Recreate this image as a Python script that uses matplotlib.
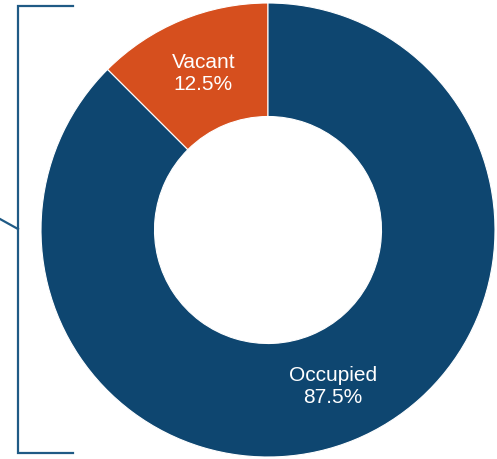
import matplotlib
matplotlib.use("Agg")
import matplotlib.pyplot as plt
import numpy as np

categories = ["Vacant", "Occupied"]
values = [12.5, 87.5]
colors = ["#D64F1E", "#0E4670"]

W, H = 497, 459
fig = plt.figure(figsize=(W / 100, H / 100), dpi=100)
ax = fig.add_axes([0, 0, 1, 1])
ax.set_xlim(0, W)
ax.set_ylim(0, H)
ax.set_aspect("equal")
ax.axis("off")

cx, cy, R = 268, 229, 227
wedges, _ = ax.pie(values, colors=colors, startangle=90, counterclock=True,
                   center=(cx, cy), radius=R, frame=True,
                   wedgeprops=dict(width=R * 0.5, edgecolor="white", linewidth=0.8))
ax.set_xlim(0, W)
ax.set_ylim(0, H)
ax.axis("off")

for w, cat, v in zip(wedges, categories, values):
    ang = np.deg2rad((w.theta1 + w.theta2) / 2)
    r = R * 0.745
    ax.text(cx + r * np.cos(ang), cy + r * np.sin(ang), f"{cat}\n{v:.1f}%",
            ha="center", va="center", color="white", fontsize=15,
            family="Liberation Sans", linespacing=1.2)

lc = "#1F5A85"
ax.plot([73, 18, 18, 73], [H - 6, H - 6, H - 453, H - 453], color=lc, lw=1.6,
        solid_joinstyle="miter")
ax.plot([0, 18], [H - 219, H - 229], color=lc, lw=1.6)

fig.savefig("out.png", dpi=100)
